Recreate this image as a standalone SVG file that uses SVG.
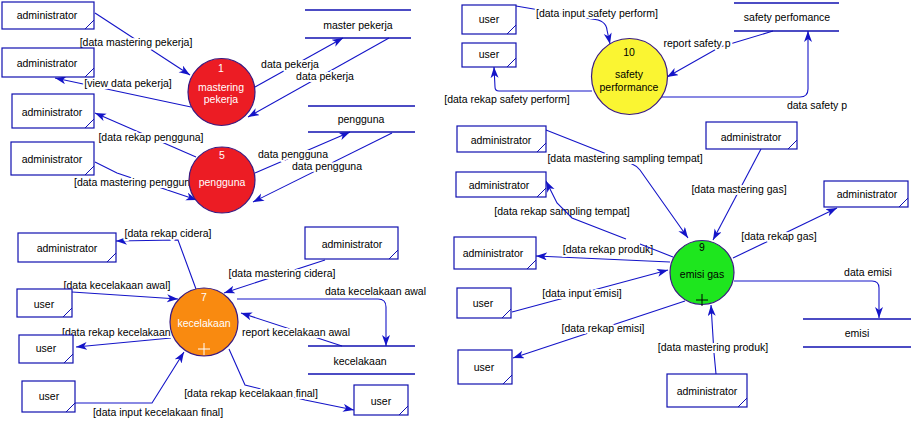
<svg xmlns="http://www.w3.org/2000/svg" width="911" height="422" viewBox="0 0 911 422">
<style>
text{font-family:"Liberation Sans",Arial,sans-serif;font-size:10.5px;fill:#000;text-anchor:middle}
.lbl{stroke:#fff;stroke-width:4;paint-order:stroke;stroke-linejoin:round}
.st{text-anchor:start}
.ln{fill:none;stroke:#1414C8;stroke-width:1.1;marker-end:url(#ah)}
.box rect{fill:#fff;stroke:#1010B0;stroke-width:1.2}
.box line{stroke:#1010B0;stroke-width:1}
.store line{stroke:#1010B0;stroke-width:1.4}
.proc circle{stroke:#3a1a80;stroke-width:1.2}
.w{fill:#fff}
</style>
<defs>
<marker id="ah" markerUnits="userSpaceOnUse" markerWidth="12" markerHeight="9" refX="11" refY="4" orient="auto">
<path d="M0,0 L11,4 L0,8 L3,4 Z" fill="#1414C8"/>
</marker>
</defs>
<rect width="911" height="422" fill="#fff"/>
<g id="connectors">
<path class="ln" d="M95,13 L190,75"/>
<path class="ln" d="M191,107 L55,78"/>
<path class="ln" d="M255,87 L343,38"/>
<path class="ln" d="M389,38 L248,117"/>
<path class="ln" d="M196,157 L95,113"/>
<path class="ln" d="M95,162 L117,173 L197,200"/>
<path class="ln" d="M255,173 L350,132"/>
<path class="ln" d="M392,133 L253,202"/>
<path class="ln" d="M196,289 L178,240 L116,241"/>
<path class="ln" d="M325,260 L224,293"/>
<path class="ln" d="M72,292 L178,299"/>
<path class="ln" d="M171,338 L76,347"/>
<path class="ln" d="M75,403 L152,403 L184,352"/>
<path class="ln" d="M229,349 L245,385 L305,400 L354,410"/>
<path class="ln" d="M237,299 L378,299 Q386,299 386,307 L386,346"/>
<path class="ln" d="M342,346 L241,313"/>
<path class="ln" d="M516,6 L592,19 Q606,20 607,30 L610,44"/>
<path class="ln" d="M592,91 L499,91 Q495,91 495,87 L494,67"/>
<path class="ln" d="M773,31 L720,47 L667,77"/>
<path class="ln" d="M662,97 L800,97 Q808,97 808,89 L808,31"/>
<path class="ln" d="M546,130 L632,164 Q637,166 640,170 L688,238"/>
<path class="ln" d="M761,149 L713,240"/>
<path class="ln" d="M670,262 L536,256"/>
<path class="ln" d="M733,258 L837,208"/>
<path class="ln" d="M512,312 L668,270"/>
<path class="ln" d="M685,301 L513,358"/>
<path class="ln" d="M716,374 L714,353 L711,305"/>
<path class="ln" d="M734,281 L872,281 Q879,281 879,288 L879,318"/>
<text class="lbl" x="136" y="46">[data mastering pekerja]</text>
<text class="lbl" x="128" y="87">[view data pekerja]</text>
<text class="lbl" x="290" y="68">data pekerja</text>
<text class="lbl" x="325" y="80">data pekerja</text>
<text class="lbl" x="151" y="141">[data rekap pengguna]</text>
<text class="lbl st" x="74" y="186">[data mastering penggun</text>
<text class="lbl" x="293" y="158">data pengguna</text>
<text class="lbl" x="327" y="170">data pengguna</text>
<text class="lbl" x="168" y="237">[data rekap cidera]</text>
<text class="lbl" x="282" y="277">[data mastering cidera]</text>
<text class="lbl st" x="325" y="295">data kecelakaan awal</text>
<text class="lbl" x="117" y="289">[data kecelakaan awal]</text>
<text class="lbl st" x="62" y="336">[data rekap kecelakaan</text>
<text class="lbl" x="296" y="336">report kecelakaan awal</text>
<text class="lbl" x="251" y="397">[data rekap kecelakaan final]</text>
<text class="lbl" x="158" y="416">[data input kecelakaan final]</text>
<text class="lbl" x="597" y="17">[data input safety perform]</text>
<text class="lbl" x="507" y="103">[data rekap safety perform]</text>
<text class="lbl" x="697" y="47">report safety p</text>
<text class="lbl" x="817" y="109">data safety p</text>
<text class="lbl" x="625" y="162">[data mastering sampling tempat]</text>
<text class="lbl" x="739" y="193">[data mastering gas]</text>
<text class="lbl" x="562" y="215">[data rekap sampling tempat]</text>
<text class="lbl" x="608" y="253">[data rekap produk]</text>
<text class="lbl" x="779" y="240">[data rekap gas]</text>
<text class="lbl" x="868" y="276">data emisi</text>
<text class="lbl" x="582" y="297">[data input emisi]</text>
<text class="lbl" x="603" y="332">[data rekap emisi]</text>
<text class="lbl" x="713" y="351">[data mastering produk]</text>
<path class="ln" d="M673,257 L640,244 M626,239 L572,218 L557,203 L546,181"/>
</g>
<g id="admin1" class="box"><rect x="2" y="2" width="92" height="27"/><line x1="85" y1="29" x2="94" y2="20"/><text x="47" y="19">administrator</text></g>
<g id="admin2" class="box"><rect x="2" y="48" width="92" height="29"/><line x1="85" y1="77" x2="94" y2="68"/><text x="47" y="67">administrator</text></g>
<g id="admin3" class="box"><rect x="12" y="94" width="82" height="34"/><line x1="85" y1="128" x2="94" y2="119"/><text x="52" y="116">administrator</text></g>
<g id="admin4" class="box"><rect x="11" y="142" width="83" height="33"/><line x1="85" y1="175" x2="94" y2="166"/><text x="52" y="163">administrator</text></g>
<g id="store-master-pekerja" class="store"><line x1="305" y1="10" x2="411" y2="10"/><line x1="305" y1="38" x2="411" y2="38"/><text x="358" y="29">master pekerja</text></g>
<g id="store-pengguna" class="store"><line x1="308" y1="106" x2="415" y2="106"/><line x1="308" y1="132" x2="415" y2="132"/><text x="361" y="123">pengguna</text></g>
<g id="proc1" class="proc"><circle cx="221.5" cy="92" r="33.5" fill="#EC1C24"/><text class="w" x="221" y="72">1</text><text class="w" x="221" y="91">mastering</text><text class="w" x="221" y="103">pekerja</text></g>
<g id="proc5" class="proc"><circle cx="222" cy="180" r="33" fill="#EC1C24"/><text class="w" x="222" y="159">5</text><text class="w" x="222" y="186">pengguna</text></g>
<g id="admin5" class="box"><rect x="18" y="233" width="98" height="29"/><line x1="107" y1="262" x2="116" y2="253"/><text x="67" y="252">administrator</text></g>
<g id="admin6" class="box"><rect x="305" y="227" width="93" height="32"/><line x1="389" y1="259" x2="398" y2="250"/><text x="352" y="248">administrator</text></g>
<g id="user1" class="box"><rect x="17" y="289" width="55" height="28"/><line x1="63" y1="317" x2="72" y2="308"/><text x="44" y="308">user</text></g>
<g id="user2" class="box"><rect x="19" y="335" width="54" height="28"/><line x1="64" y1="363" x2="73" y2="354"/><text x="46" y="352">user</text></g>
<g id="user3" class="box"><rect x="22" y="381" width="53" height="31"/><line x1="66" y1="412" x2="75" y2="403"/><text x="49" y="400">user</text></g>
<g id="user4" class="box"><rect x="354" y="385" width="54" height="30"/><line x1="399" y1="415" x2="408" y2="406"/><text x="381" y="405">user</text></g>
<g id="store-kecelakaan" class="store"><line x1="308" y1="346" x2="415" y2="346"/><line x1="308" y1="374" x2="415" y2="374"/><text x="360" y="365">kecelakaan</text></g>
<g id="proc7" class="proc"><circle cx="204" cy="322" r="34" fill="#F98A10"/><text class="w" x="204" y="301">7</text><text class="w" x="204" y="327">kecelakaan</text><path d="M198,349 H210 M204,343 V355" stroke="#fff" stroke-width="1"/></g>
<g id="user5" class="box"><rect x="462" y="5" width="54" height="29"/><line x1="507" y1="34" x2="516" y2="25"/><text x="489" y="23">user</text></g>
<g id="user6" class="box"><rect x="462" y="43" width="54" height="24"/><line x1="507" y1="67" x2="516" y2="58"/><text x="489" y="58">user</text></g>
<g id="store-safety" class="store"><line x1="734" y1="3" x2="839" y2="3"/><line x1="734" y1="31" x2="839" y2="31"/><text x="787" y="21">safety perfomance</text></g>
<g id="proc10" class="proc"><circle cx="629.5" cy="76.5" r="38" fill="#FAF532"/><text x="629" y="56">10</text><text x="629" y="78">safety</text><text x="629" y="91">performance</text></g>
<g id="admin7" class="box"><rect x="457" y="126" width="89" height="26"/><line x1="537" y1="152" x2="546" y2="143"/><text x="501" y="144">administrator</text></g>
<g id="admin8" class="box"><rect x="456" y="172" width="90" height="25"/><line x1="537" y1="197" x2="546" y2="188"/><text x="499" y="189">administrator</text></g>
<g id="admin9" class="box"><rect x="454" y="237" width="82" height="32"/><line x1="527" y1="269" x2="536" y2="260"/><text x="493" y="257">administrator</text></g>
<g id="admin10" class="box"><rect x="706" y="122" width="91" height="27"/><line x1="788" y1="149" x2="797" y2="140"/><text x="751" y="141">administrator</text></g>
<g id="admin11" class="box"><rect x="824" y="181" width="84" height="26"/><line x1="899" y1="207" x2="908" y2="198"/><text x="867" y="198">administrator</text></g>
<g id="user7" class="box"><rect x="457" y="288" width="54" height="30"/><line x1="502" y1="318" x2="511" y2="309"/><text x="483" y="307">user</text></g>
<g id="user8" class="box"><rect x="458" y="350" width="54" height="34"/><line x1="503" y1="384" x2="512" y2="375"/><text x="484" y="371">user</text></g>
<g id="admin12" class="box"><rect x="667" y="374" width="80" height="33"/><line x1="738" y1="407" x2="747" y2="398"/><text x="707" y="395">administrator</text></g>
<g id="store-emisi" class="store"><line x1="803" y1="319" x2="911" y2="319"/><line x1="803" y1="347" x2="911" y2="347"/><text x="857" y="337">emisi</text></g>
<g id="proc9" class="proc"><circle cx="702" cy="272.5" r="32" fill="#1EE61E"/><text x="702" y="251">9</text><text x="702" y="278">emisi gas</text><path d="M696,300 H708 M702,294 V306" stroke="#000" stroke-width="1"/></g>
</svg>
